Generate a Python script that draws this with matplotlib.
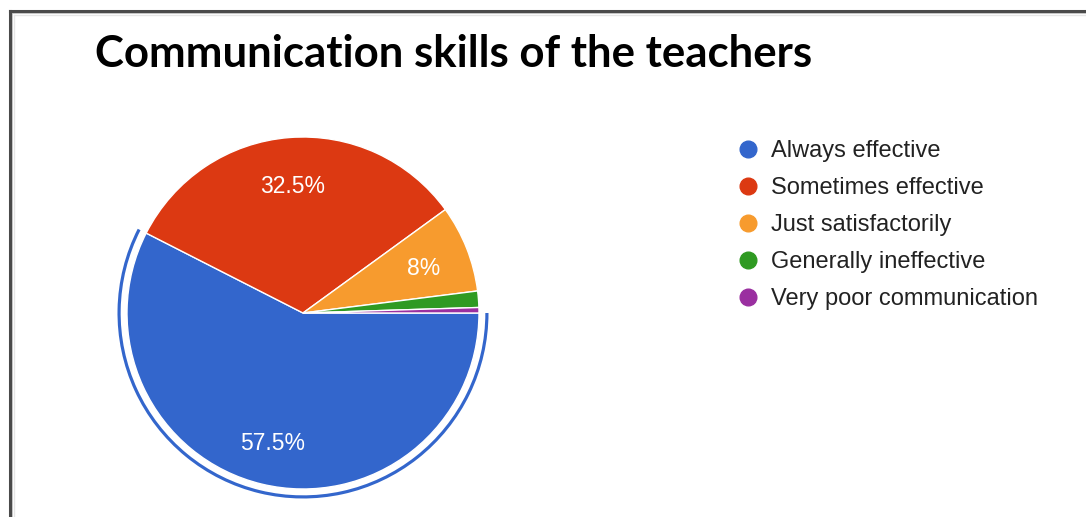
import matplotlib
matplotlib.use("Agg")
import matplotlib.pyplot as plt
from matplotlib.lines import Line2D
from matplotlib.patches import Wedge

# data
labels = ["Always effective", "Sometimes effective", "Just satisfactorily",
          "Generally ineffective", "Very poor communication"]
shares = [57.5, 32.5, 8, 1.5, 0.5]
colors = ["#3366cc", "#dc3912", "#f79b2e", "#2f9a22", "#9a2fa0"]
title = "Communication skills of the teachers"

W, H = 1086, 517
fig = plt.figure(figsize=(W / 100, H / 100), dpi=100)

def px(x, y):
    # image pixel (from top-left) -> figure fraction
    return x / W, 1 - y / H

# frame of the screenshot
for lw, col, off in [(1.0, "#e6e6e6", 3.5), (1.2, "#bdbdbd", 2.2), (2.2, "#4a4a4a", 0)]:
    fig.add_artist(Line2D([px(10 + off, 0)[0], 1], [px(0, 11 + off)[1]] * 2,
                          transform=fig.transFigure, color=col, lw=lw))
    fig.add_artist(Line2D([px(10 + off, 0)[0]] * 2, [0, px(0, 11 + off)[1]],
                          transform=fig.transFigure, color=col, lw=lw))

fig.text(*px(95, 67), title, fontsize=31.5, fontweight="bold",
         family="Lato", color="black", va="baseline", ha="left")

# pie
R = 176
lim = 1.1
cx, cy = 303, 313
side = 2 * lim * R
ax = fig.add_axes([(cx - side / 2) / W, (H - cy - side / 2) / H, side / W, side / H])

def fmt(p):
    if p < 5:
        return ""
    return f"{p:.1f}".rstrip("0").rstrip(".") + "%"

wedges, _, autotexts = ax.pie(shares, colors=colors, startangle=0, counterclock=False,
                              radius=1, autopct=fmt, pctdistance=0.74,
                              wedgeprops=dict(edgecolor="white", linewidth=1),
                              textprops=dict(color="white", fontsize=16.5,
                                             family="Liberation Sans"))
for t in autotexts:
    x, y = t.get_position()
    t.set_position((x, y - 0.02))

# hover highlight ring around the first slice
w0 = wedges[0]
ax.add_patch(Wedge((0, 0), 1.054, w0.theta1, w0.theta2, width=0.018,
                   facecolor=colors[0], edgecolor="none"))

ax.set_xlim(-lim, lim)
ax.set_ylim(-lim, lim)
ax.set_aspect("equal")
ax.axis("off")

handles = [Line2D([], [], marker="o", linestyle="", markersize=12,
                  markerfacecolor=c, markeredgecolor=c) for c in colors]
fig.legend(handles, labels, loc="upper left", bbox_to_anchor=px(736, 140),
           frameon=False, prop=dict(family="Liberation Sans", size=17),
           labelcolor="#222222", handlelength=1.0, handletextpad=0.5,
           labelspacing=0.64, borderpad=0, borderaxespad=0)

fig.savefig("out.png", dpi=100, facecolor="white")
